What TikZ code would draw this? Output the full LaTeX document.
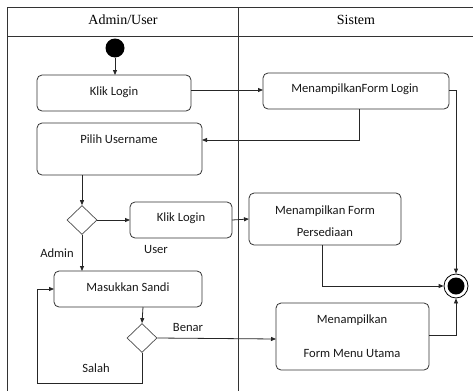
\documentclass[tikz,border=0pt]{standalone}
\usepackage{fontspec}
\setmainfont{Liberation Serif}
\newfontfamily\boxfont{Carlito}
\usetikzlibrary{arrows.meta,shapes.geometric}
\begin{document}
\begin{tikzpicture}[x=1pt,y=-1pt,
  frame/.style={line width=1pt, draw=black!80},
  act/.style={draw=black!80, line width=0.8pt, rounded corners=5pt, fill=white},
  dec/.style={draw=black!70, line width=0.7pt, fill=white},
  flow/.style={line width=0.8pt, draw=black!85, -{Triangle[length=5pt,width=4pt]}},
  lbl/.style={font=\boxfont\fontsize{12.6}{14}\selectfont, inner sep=0pt, text=black!90},
  hdr/.style={font=\fontsize{14}{16}\selectfont, inner sep=0pt}]
\useasboundingbox (0,0) rectangle (473,391);
% frame
\draw[frame] (473,7) -- (7.5,7) -- (7.5,391);
\draw[frame] (7.5,36) -- (473,36);
\draw[frame] (238,7) -- (238,391);
\node[hdr] (h1) at (123,20) {Admin/User};
\node[hdr] (h2) at (356,20) {Sistem};
% start
\node[circle, fill=black, minimum size=19pt, inner sep=0pt] (start) at (115,48) {};
% boxes
\draw[act] (37,75) rectangle (191,111);
\node[lbl] (k1) at (114,92) {Klik Login};
\coordinate (k1n) at (115,75);
\coordinate (k1e) at (191,90);
\draw[act] (37,123) rectangle (202,175);
\node[lbl] (pu) at (119,139) {Pilih Username};
\coordinate (pue) at (202,140);
\coordinate (pus) at (82,175);
\draw[act] (263,73) rectangle (449,109);
\node[lbl] (mf) at (355,89) {MenampilkanForm Login};
\coordinate (mfw) at (263,90);
\coordinate (mfs) at (359,109);
\coordinate (mfe) at (449,90);
% decision 1
\node[diamond, dec, minimum width=30pt, minimum height=29pt, inner sep=0pt] (d1) at (82,220) {};
\draw[act] (130,202) rectangle (232,238);
\node[lbl] (k2) at (181,218) {Klik Login};
\coordinate (k2w) at (130,220);
\coordinate (k2e) at (232,220);
\node[lbl] (user) at (156,249) {User};
\node[lbl] (admin) at (57,253) {Admin};
\draw[act] (249,193) rectangle (401,245);
\node[lbl] (mp1) at (325,211) {Menampilkan Form};
\node[lbl] (mp2) at (325,232) {Persediaan};
\coordinate (mpw) at (249,219);
\coordinate (mps) at (322,245);
% masukkan sandi
\draw[act] (54,271) rectangle (202,307);
\node[lbl] (ms) at (128,287) {Masukkan Sandi};
\coordinate (msn) at (82,271);
\coordinate (msw) at (54,289);
\coordinate (mss) at (143,307);
\node[diamond, dec, minimum width=30pt, minimum height=29pt, inner sep=0pt] (d2) at (142,338) {};
\node[lbl] (benar) at (188,327) {Benar};
\node[lbl] (salah) at (96,368) {Salah};
\draw[act] (276,303) rectangle (429,370);
\node[lbl] (mu1) at (352,320) {Menampilkan};
\node[lbl] (mu2) at (352,353) {Form Menu Utama};
\coordinate (muw) at (276,339);
\coordinate (mue) at (429,335);
% final
\node[circle, draw=black, line width=0.8pt, fill=white, minimum size=24pt, inner sep=0pt] (fin) at (456,286) {};
\node[circle, fill=black, minimum size=17pt, inner sep=0pt] (fini) at (456,286) {};
% connectors
\draw[flow] (start) -- (k1n);
\draw[flow] (k1e) -- (mfw);
\draw[flow] (mfs) |- (pue);
\draw[flow] (mfe) -- (456,90) -- (fin.north);
\draw[flow] (pus) -- (d1.north);
\draw[flow] (d1.east) -- (k2w);
\draw[flow] (k2e) -- (mpw);
\draw[flow] (d1.south) -- (msn);
\draw[flow] (mss) -- (d2.north);
\draw[flow] (d2.east) -- (muw);
\draw[flow] (d2.south) -- (142,383) -- (37,383) -- (37,289) -- (msw);
\draw[flow] (mps) |- (fin.west);
\draw[flow] (mue) -| (fin.south);
\end{tikzpicture}
\end{document}
